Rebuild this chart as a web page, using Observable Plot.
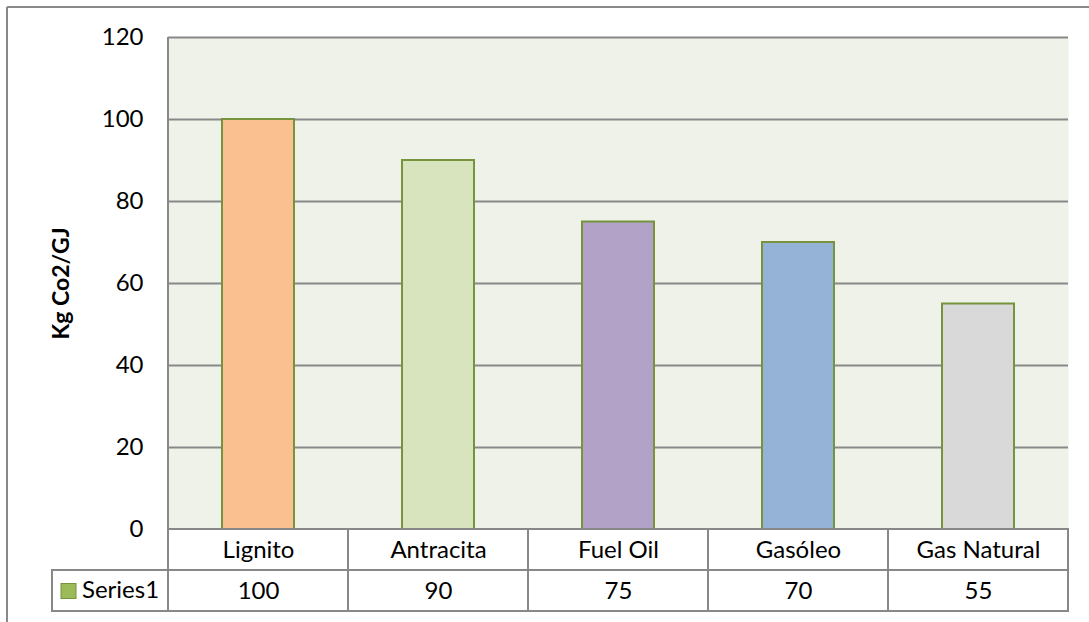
<!DOCTYPE html>
<html><head><meta charset="utf-8">
<script src="https://cdn.jsdelivr.net/npm/d3@7"></script>
<script src="https://cdn.jsdelivr.net/npm/@observablehq/plot@0.6"></script>
<style>body{margin:0;background:#fff} svg{display:block}</style>
</head><body><div id="chart"></div>
<script>
const categories = ["Lignito","Antracita","Fuel Oil","Gasóleo","Gas Natural"];
const values = [100,90,75,70,55];
const barColors = ["#FAC090","#D7E4BD","#B3A2C7","#95B3D7","#D9D9D9"];
const yTicks = [0,20,40,60,80,100,120];
const seriesName = "Series1";
const yTitle = "Kg Co2/GJ";

const data = categories.map((c,i)=>({cat:c, value:values[i], color:barColors[i]}));
const font = "Lato, 'Open Sans', sans-serif";
const fs = 24;
const gridColor = "#888888";

const plot = Plot.plot({
  width:1089, height:622, marginLeft:168, marginRight:21, marginTop:37, marginBottom:93,
  style:{fontFamily:font, fontSize:fs+"px", color:"#000", background:"#fff", overflow:"visible"},
  x:{type:"band", domain:categories, padding:0, axis:null},
  y:{domain:[0,120], axis:null},
  marks:[
    Plot.frame({fill:"#EFF2E8", stroke:null}),
    Plot.gridY(yTicks, {stroke:gridColor, strokeOpacity:1, strokeWidth:2}),
    Plot.barY(data, {x:"cat", y:"value", fill:"color", stroke:"#77933C", strokeWidth:2, insetLeft:54, insetRight:54}),
    Plot.axisY(yTicks, {tickSize:0, tickPadding:25, fontSize:fs, label:null}),
    Plot.barY(data, {x:"cat", y1:0, y2:-10, fill:"white", stroke:gridColor, strokeWidth:2}),
    Plot.barY(data, {x:"cat", y1:-10, y2:-20, fill:"white", stroke:gridColor, strokeWidth:2}),
    Plot.text(data, {x:"cat", y:-5, text:"cat", fontSize:fs}),
    Plot.text(data, {x:"cat", y:-15, text:d=>String(d.value), fontSize:fs}),
    Plot.text([yTitle], {frameAnchor:"left", textAnchor:"middle", y:60, dx:-107, rotate:-90, text:d=>d, fontWeight:"bold", fontSize:fs-1})
  ]
});

const y = plot.scale("y");
const svg = d3.select(plot);
// outer chart frame
svg.append("line").attr("x1",7).attr("x2",1089).attr("y1",7).attr("y2",7).attr("stroke","#898989").attr("stroke-width",2);
svg.append("line").attr("x1",7).attr("x2",7).attr("y1",7).attr("y2",622).attr("stroke","#898989").attr("stroke-width",2);
// left border of plot area and table
svg.append("line").attr("x1",168).attr("x2",168).attr("y1",y.apply(120)).attr("y2",y.apply(-20)).attr("stroke",gridColor).attr("stroke-width",2);
// legend cell
svg.append("rect").attr("x",52).attr("width",116).attr("y",y.apply(-10)).attr("height",y.apply(-20)-y.apply(-10))
  .attr("fill","white").attr("stroke",gridColor).attr("stroke-width",2);
const cy = y.apply(-15);
svg.append("rect").attr("x",61).attr("y",cy-7).attr("width",15).attr("height",15).attr("fill","#9BBB59").attr("stroke","#77933C").attr("stroke-width",1);
svg.append("text").attr("x",82).attr("y",cy).attr("dy","0.32em").attr("text-anchor","start")
  .attr("font-size",fs).attr("font-family",font).attr("fill","#000").text(seriesName);

document.getElementById("chart").appendChild(plot);
</script>
</body></html>
